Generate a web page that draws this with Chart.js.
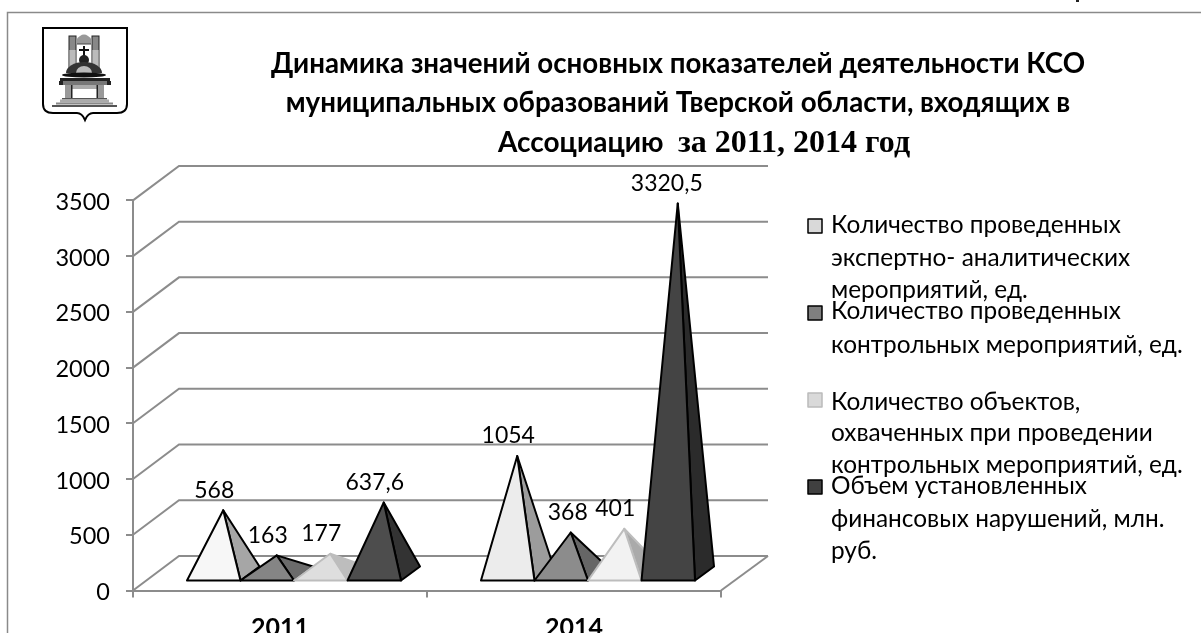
<!DOCTYPE html>
<html><head><meta charset="utf-8">
<script src="https://cdn.jsdelivr.net/npm/chart.js@4"></script>
<style>html,body{margin:0;padding:0;background:#fff;overflow:hidden}canvas{display:block}</style>
</head><body>
<canvas id="c" width="1201" height="633"></canvas>
<script>
const categories = ['2011', '2014'];
const seriesNames = [
  ['Количество проведенных', 'экспертно- аналитических', 'мероприятий, ед.'],
  ['Количество проведенных', 'контрольных мероприятий, ед.'],
  ['Количество объектов,', 'охваченных при проведении', 'контрольных мероприятий, ед.'],
  ['Объем установленных', 'финансовых нарушений, млн.', 'руб.']
];
const expertEvents = [568, 1054];
const controlEvents = [163, 368];
const coveredObjects = [177, 401];
const violations = [637.6, 3320.5];
const titleLines = [
  'Динамика значений основных показателей деятельности КСО',
  'муниципальных образований Тверской области, входящих в'
];
const titleLast = ['Ассоциацию', 'за 2011, 2014 год'];
const yMax = 3500, yStep = 500;

const FONT = 'Lato, "Noto Sans", sans-serif';
const frontColors = [['#f7f7f7','#ececec'],['#858585','#8c8c8c'],['#dedede','#f2f2f2'],['#4d4d4d','#444444']];
const sideColors  = [['#a6a6a6','#9c9c9c'],['#6b6b6b','#666666'],['#bdbdbd','#aaaaaa'],['#333333','#2b2b2b']];
const strokeColors = ['#000','#000','#bdbdbd','#000'];
const legendFill = ['#d9d9d9','#7f7f7f','#d9d9d9','#404040'];
const legendStroke = ['#000','#000','#bbb','#000'];
const labelNudgeX = [[0,0],[0,6],[0,0],[0,-2]];
const legendBaselines = [[233,266,298],[319,353],[410,441,473],[494,527,559]];
const legendBoxes = [219,306,393,480];
const DEPTH_X = 46, DEPTH_Y = 34.5, BAR_DX = 19, BAR_DY = 14, BAR_SHIFT = 14, BASE_UP = 10;
const GRID = '#8c8c8c';

function poly(ctx, pts, fill, stroke, lw) {
  ctx.beginPath();
  pts.forEach((p,i)=> i?ctx.lineTo(p[0],p[1]):ctx.moveTo(p[0],p[1]));
  ctx.closePath();
  if (fill){ctx.fillStyle=fill;ctx.fill();}
  if (stroke){ctx.strokeStyle=stroke;ctx.lineWidth=lw;ctx.lineJoin='round';ctx.stroke();}
}

function drawEmblem(ctx){
  ctx.save();
  ctx.strokeStyle='#000';ctx.lineWidth=2;
  ctx.beginPath();
  ctx.moveTo(43,28);ctx.lineTo(127,28);ctx.lineTo(127,104);
  ctx.quadraticCurveTo(127,113,117,113);ctx.lineTo(93,113);
  ctx.quadraticCurveTo(88,113,85,120);ctx.quadraticCurveTo(82,113,77,113);
  ctx.lineTo(53,113);ctx.quadraticCurveTo(43,113,43,104);ctx.closePath();ctx.stroke();
  // towers and arch
  ctx.fillStyle='#888';ctx.fillRect(69,36,7,14);ctx.fillRect(92,36,7,14);
  ctx.fillStyle='#bbb';ctx.fillRect(70,50,5,19);ctx.fillRect(93,50,5,19);
  ctx.strokeStyle='#222';ctx.lineWidth=1;ctx.strokeRect(69,36,7,33);ctx.strokeRect(92,36,7,33);
  ctx.fillStyle='#999';ctx.beginPath();ctx.moveTo(76,40);ctx.quadraticCurveTo(84,29,92,40);ctx.lineTo(92,44);ctx.lineTo(76,44);ctx.closePath();ctx.fill();
  ctx.strokeStyle='#444';ctx.beginPath();ctx.moveTo(77,44);ctx.lineTo(91,44);ctx.stroke();
  // cross
  ctx.fillStyle='#111';ctx.fillRect(83,46,2,10);ctx.fillRect(79,49,10,2);
  // orb and dome
  ctx.beginPath();ctx.arc(84,60,5,0,Math.PI*2);ctx.fillStyle='#222';ctx.fill();
  ctx.beginPath();ctx.ellipse(84,73,18,11,0,Math.PI,0);ctx.closePath();ctx.fillStyle='#333';ctx.fill();
  ctx.beginPath();ctx.ellipse(84,73,8,7,0,Math.PI,0);ctx.closePath();ctx.fillStyle='#bbb';ctx.fill();
  // cushion and table
  ctx.fillStyle='#111';ctx.beginPath();ctx.ellipse(84,75,22,2.5,0,0,Math.PI*2);ctx.fill();
  ctx.fillStyle='#222';ctx.fillRect(60,78,50,3);ctx.fillRect(59,81,4,4);ctx.fillRect(107,81,4,4);
  ctx.fillStyle='#777';ctx.fillRect(63,81,44,4);
  ctx.fillStyle='#aaa';ctx.fillRect(72,85,25,4);
  ctx.fillStyle='#999';ctx.fillRect(65,85,6,13);ctx.fillRect(98,85,6,13);
  ctx.fillStyle='#222';ctx.fillRect(71,85,1.5,13);ctx.fillRect(96.5,85,1.5,13);
  // steps
  ctx.fillStyle='#555';ctx.fillRect(62,98,45,1.5);
  ctx.fillStyle='#aaa';ctx.fillRect(60,99.5,49,3);
  ctx.fillStyle='#888';ctx.fillRect(56,102.5,57,2);
  ctx.fillStyle='#555';ctx.fillRect(52,105,65,2);
  ctx.restore();
}

const scene = {
  id:'scene',
  beforeDraw(chart){
    const ctx=chart.ctx;
    ctx.save();
    ctx.fillStyle='#fff';ctx.fillRect(0,0,1201,633);
    ctx.strokeStyle='#8a8a8a';ctx.lineWidth=1.5;
    ctx.beginPath();ctx.moveTo(7.5,633);ctx.lineTo(7.5,12.5);ctx.lineTo(1201,12.5);ctx.stroke();
    ctx.fillStyle='#222';ctx.fillRect(1076,0,3,2);
    drawEmblem(ctx);
    // title
    ctx.fillStyle='#000';ctx.textBaseline='alphabetic';ctx.textAlign='center';
    ctx.font='bold 27.7px '+FONT;
    ctx.fillText(titleLines[0],678,73);
    ctx.fillText(titleLines[1],678,112);
    ctx.textAlign='left';
    ctx.font='bold 28px '+FONT;ctx.fillText(titleLast[0],498,152);
    ctx.font='bold 32px "Liberation Serif", serif';ctx.fillText(titleLast[1],678,152);
    // back wall + side wall + floor
    const y=chart.scales.y, x=chart.scales.x;
    const L=x.left,R=x.right;
    ctx.strokeStyle=GRID;ctx.lineWidth=2;
    y.ticks.forEach(t=>{
      const py=y.getPixelForValue(t.value);
      ctx.beginPath();ctx.moveTo(L,py);ctx.lineTo(L+DEPTH_X,py-DEPTH_Y);ctx.lineTo(R+DEPTH_X+1,py-DEPTH_Y);ctx.stroke();
    });
    const py0=y.getPixelForValue(0);
    ctx.beginPath();ctx.moveTo(R,py0);ctx.lineTo(R+DEPTH_X+1,py0-DEPTH_Y);ctx.stroke();
    ctx.restore();
  },
  afterDatasetsDraw(chart){
    const ctx=chart.ctx, yS=chart.scales.y;
    const baseY=yS.getPixelForValue(0)-BASE_UP;
    ctx.save();
    chart.data.datasets.forEach((ds,si)=>{
      chart.getDatasetMeta(si).data.forEach((bar,ci)=>{
        const l=bar.x-bar.width/2+BAR_SHIFT, r=l+bar.width;
        const ax=(l+r)/2+BAR_DX/2, ay=bar.y-(BASE_UP+BAR_DY/2);
        poly(ctx,[[r,baseY],[r+BAR_DX,baseY-BAR_DY],[ax,ay]],sideColors[si][ci],strokeColors[si],2);
        poly(ctx,[[l,baseY],[r,baseY],[ax,ay]],frontColors[si][ci],strokeColors[si],2);
      });
    });
    // value labels
    ctx.fillStyle='#000';ctx.font='23px '+FONT;ctx.textAlign='center';ctx.textBaseline='middle';
    chart.data.datasets.forEach((ds,si)=>{
      chart.getDatasetMeta(si).data.forEach((bar,ci)=>{
        const l=bar.x-bar.width/2+BAR_SHIFT, r=l+bar.width;
        const ax=(l+r)/2+BAR_DX/2, ay=bar.y-(BASE_UP+BAR_DY/2);
        ctx.fillText(String(ds.data[ci]).replace('.',','),ax-9+labelNudgeX[si][ci],ay-20);
      });
    });
    // legend
    ctx.textAlign='left';ctx.textBaseline='alphabetic';ctx.font='24.4px '+FONT;
    seriesNames.forEach((lines,si)=>{
      ctx.fillStyle=legendFill[si];ctx.strokeStyle=legendStroke[si];ctx.lineWidth=1.5;
      ctx.fillRect(808,legendBoxes[si],14,14);ctx.strokeRect(808,legendBoxes[si],14,14);
      ctx.fillStyle='#000';
      lines.forEach((t,i)=>ctx.fillText(t,831,legendBaselines[si][i]));
    });
    ctx.restore();
  }
};

new Chart(document.getElementById('c'),{
  type:'bar',
  data:{labels:categories,datasets:[
    {label:seriesNames[0].join(' '),data:expertEvents},
    {label:seriesNames[1].join(' '),data:controlEvents},
    {label:seriesNames[2].join(' '),data:coveredObjects},
    {label:seriesNames[3].join(' '),data:violations}
  ].map(d=>({...d,backgroundColor:'rgba(0,0,0,0)',borderWidth:0,barPercentage:1,categoryPercentage:0.728}))},
  plugins:[scene],
  options:{
    responsive:false,animation:false,
    layout:{padding:{left:0,right:480,top:200.4,bottom:0}},
    plugins:{legend:{display:false},tooltip:{enabled:false},title:{display:false}},
    scales:{
      x:{afterFit(s){s.height=42.5;},
         grid:{offset:true,drawOnChartArea:false,color:GRID,lineWidth:2,tickLength:7},
         border:{color:GRID,width:2},
         ticks:{color:'#000',font:{family:FONT,size:25,weight:'bold'},padding:15,maxRotation:0}},
      y:{min:0,max:yMax,afterFit(s){s.width=133;},
         grid:{drawOnChartArea:false,color:GRID,lineWidth:2,tickLength:7},
         border:{color:GRID,width:2},
         ticks:{stepSize:yStep,color:'#000',font:{family:FONT,size:23.5},padding:16,labelOffset:2,callback:v=>String(v)}}
    }
  }
});
</script>
</body></html>
